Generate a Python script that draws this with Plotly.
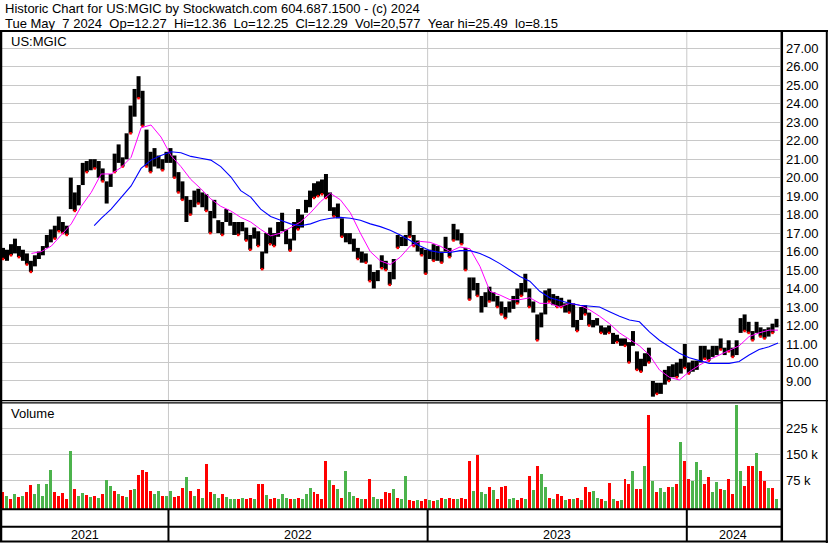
import pandas as pd
import plotly.graph_objects as go

# ---------------- data ----------------
# weekday calendar of the chart (one column per weekday)
dates = pd.bdate_range(end="2024-05-07", periods=780)
STEP = 4  # each price / volume sample covers 4 weekdays

price_lo = [15.6, 15.5, 15.8, 15.9, 15.7, 15.5, 15.3, 14.9, 15.2, 15.6,
            15.8, 16.2, 16.5, 16.7, 17.1, 17.0, 16.9, 18.3, 18.2, 18.5,
            19.6, 20.3, 20.4, 20.5, 20.0, 19.8, 18.6, 19.5, 20.3, 20.8,
            20.6, 21.0, 22.4, 23.3, 24.3, 22.8, 20.6, 20.3, 20.6, 20.5,
            20.4, 20.8, 20.8, 20.0, 19.2, 18.8, 17.6, 18.0, 18.4, 18.6,
            18.4, 18.2, 17.0, 17.8, 17.0, 16.9, 17.6, 17.4, 16.9, 16.9,
            17.1, 16.6, 16.1, 16.7, 16.3, 15.05, 15.9, 16.4, 16.3, 16.8,
            17.1, 16.4, 16.05, 16.6, 17.2, 17.3, 18.1, 18.4, 18.9, 19.0,
            19.1, 18.9, 18.2, 17.9, 17.8, 16.8, 16.5, 16.4, 16.0, 15.6,
            15.4, 15.4, 14.4, 14.0, 14.4, 15.1, 15.0, 14.2, 14.5, 16.2,
            16.3, 16.3, 16.8, 16.3, 16.0, 15.8, 14.8, 15.6, 15.5, 15.5,
            15.4, 16.0, 15.7, 16.6, 16.6, 16.4, 15.0, 13.4, 13.9, 13.6,
            12.7, 13.0, 13.3, 13.3, 13.0, 12.6, 12.4, 12.7, 12.9, 13.2,
            13.6, 13.8, 13.0, 12.7, 11.2, 11.9, 12.6, 13.3, 13.1, 13.0,
            13.0, 12.7, 12.7, 11.9, 11.7, 12.3, 12.6, 12.0, 11.9, 12.0,
            11.6, 11.5, 11.6, 11.0, 11.1, 10.9, 10.9, 10.0, 10.9, 9.6,
            9.5, 9.8, 10.0, 8.15, 8.3, 8.3, 8.8, 9.0, 9.2, 9.2,
            9.4, 9.7, 9.4, 9.5, 9.6, 10.0, 10.2, 10.1, 10.3, 10.4,
            10.7, 10.4, 10.6, 10.3, 10.4, 11.6, 11.7, 11.6, 11.2, 11.6,
            11.4, 11.3, 11.4, 11.6, 11.9]

price_hi = [16.2, 16.1, 16.4, 16.7, 16.3, 16.1, 15.9, 15.5, 15.8, 16.0,
            16.3, 16.9, 17.2, 17.4, 17.9, 17.6, 17.4, 20.0, 19.2, 19.6,
            20.8, 20.9, 21.0, 21.0, 20.9, 20.5, 19.8, 20.2, 21.3, 21.8,
            21.1, 22.4, 23.9, 24.8, 25.49, 24.7, 22.6, 21.4, 21.6, 21.2,
            21.0, 21.4, 21.6, 21.2, 20.3, 19.8, 19.0, 18.8, 19.3, 19.4,
            19.2, 19.1, 18.2, 18.8, 17.7, 17.6, 18.3, 18.1, 17.6, 17.6,
            17.6, 17.3, 16.9, 17.3, 17.1, 16.0, 17.0, 17.3, 17.0, 17.6,
            18.1, 17.2, 16.7, 17.6, 18.3, 18.0, 18.8, 19.3, 19.7, 19.8,
            19.9, 20.2, 19.2, 18.4, 18.6, 17.8, 17.0, 17.0, 16.7, 16.2,
            16.0, 15.9, 15.3, 14.9, 15.0, 15.8, 15.5, 14.9, 15.6, 16.9,
            16.8, 16.9, 17.65, 16.9, 16.6, 16.2, 16.1, 16.1, 16.4, 16.3,
            16.0, 16.8, 16.2, 17.5, 17.2, 17.0, 16.2, 14.6, 14.6, 14.3,
            13.6, 13.8, 14.1, 13.8, 13.6, 13.3, 13.0, 13.3, 13.6, 14.0,
            14.3, 14.8, 14.0, 13.3, 12.6, 12.7, 13.9, 14.0, 13.7, 13.6,
            13.5, 13.2, 13.4, 13.2, 12.3, 13.0, 13.1, 12.7, 12.3, 12.4,
            12.0, 11.9, 12.0, 11.6, 11.5, 11.3, 11.3, 11.1, 11.7, 10.6,
            10.2, 10.5, 10.8, 9.0, 8.9, 8.9, 9.6, 9.8, 9.9, 10.0,
            10.2, 11.0, 10.0, 10.1, 10.1, 10.9, 10.9, 10.7, 10.9, 10.9,
            11.3, 10.8, 11.2, 10.8, 11.2, 12.4, 12.6, 12.2, 11.7, 12.2,
            11.9, 11.8, 11.9, 12.1, 12.36]

# volume in thousands of shares
vol_k = [42, 30, 22, 35, 28, 30, 40, 61, 35, 64,
         30, 64, 105, 42, 30, 38, 22, 160, 50, 30,
         38, 32, 28, 30, 25, 35, 76, 60, 45, 35,
         30, 28, 47, 49, 90, 105, 100, 45, 35, 45,
         30, 30, 45, 28, 30, 52, 84, 45, 30, 49,
         25, 122, 40, 35, 25, 35, 28, 20, 22, 20,
         25, 20, 25, 20, 64, 64, 33, 20, 25, 20,
         35, 25, 20, 22, 25, 20, 35, 53, 41, 35,
         20, 131, 76, 62, 50, 25, 102, 40, 30, 25,
         20, 20, 79, 28, 20, 22, 42, 38, 50, 25,
         20, 88, 18, 15, 18, 15, 20, 18, 15, 18,
         25, 20, 25, 20, 22, 25, 20, 131, 44, 148,
         40, 35, 55, 47, 20, 55, 59, 20, 25, 18,
         25, 20, 88, 47, 116, 93, 55, 25, 20, 35,
         30, 18, 20, 20, 25, 18, 55, 40, 45, 25,
         20, 15, 66, 20, 15, 18, 78, 64, 102, 50,
         50, 116, 263, 74, 40, 52, 40, 55, 55, 64,
         185, 131, 78, 73, 129, 105, 65, 84, 40, 71,
         50, 48, 78, 35, 292, 102, 58, 116, 116, 155,
         103, 74, 52, 52, 20]

# r = down day, g = up day
vol_dir = list("rgrgrgrrgg" "gggrrrrgrg" "grgrgrggrg" "rgrgrrrrgg"
               "rggrrrgrgr" "grrggrgggr" "grrgrrgrrg" "ggrgrgggrr"
               "rrgrgrgggr" "grrggrrrgr" "ggrrgrrgrg" "rgrrgrrrgr"
               "ggrgrrrggr" "rgrgrggrgr" "rgrgrgrrgg" "rgrgrgrrgr"
               "rgrgrggrgr" "grrggg" "rrgg" "rgrrggrrrg" "rrgrg")

# moving averages
ma_fast_days = list(range(30, 780, 10)) + [779]
ma_fast = [15.9, 16.0, 16.3, 16.9, 17.5, 18.45, 19.2, 20.2, 20.2, 20.55,
           21.1, 22.7, 22.85, 22.2, 21.2, 20.6, 19.9, 19.4, 18.85, 18.45,
           18.2, 17.85, 17.6, 17.2, 16.85, 17.0, 17.3, 17.6, 18.1, 18.7,
           19.15, 18.8, 18.1, 17.0, 16.0, 15.5, 15.3, 15.7, 16.3, 16.55,
           16.5, 16.3, 16.0, 16.25, 16.15, 15.2, 13.85, 13.65, 13.4, 13.4,
           13.5, 13.2, 13.2, 13.0, 13.2, 13.1, 12.85, 12.5, 12.1, 11.6,
           11.25, 10.9, 10.4, 9.6, 9.2, 9.05, 9.5, 9.85, 10.15, 10.4,
           10.65, 10.9, 11.4, 11.6, 11.75, 11.75]

ma_slow_days = [93] + list(range(100, 780, 10)) + [779]
ma_slow = [17.4, 17.8, 18.3, 18.9, 19.55, 20.5, 20.95, 21.2, 21.4, 21.35,
           21.15, 21.05, 20.95, 20.6, 20.05, 19.3, 18.95, 18.3, 17.9, 17.7,
           17.5, 17.4, 17.5, 17.7, 17.8, 17.85, 17.8, 17.7, 17.5, 17.35,
           17.15, 16.9, 16.6, 16.3, 16.05, 15.95, 15.95, 16.05, 16.05, 15.9,
           15.65, 15.35, 15.0, 14.65, 14.4, 13.85, 13.5, 13.35, 13.2, 13.1,
           13.05, 13.0, 12.75, 12.5, 12.3, 12.2, 11.65, 11.2, 10.85, 10.5,
           10.25, 10.1, 9.95, 9.95, 9.95, 10.05, 10.4, 10.7, 10.85, 11.05]

price_ticks = list(range(9, 28))
vol_ticks = [75, 150, 225]
vol_tick_text = ["75 k", "150 k", "225 k"]

header1 = "Historic Chart for US:MGIC by Stockwatch.com 604.687.1500 - (c) 2024"
header2 = ("Tue May\u00a0\u00a07 2024\u00a0\u00a0Op=12.27\u00a0\u00a0Hi=12.36\u00a0\u00a0"
           "Lo=12.25\u00a0\u00a0Cl=12.29\u00a0\u00a0Vol=20,577\u00a0\u00a0Year hi=25.49\u00a0\u00a0lo=8.15")

# ---------------- geometry ----------------
W, H = 830, 543
ML, MR, MT, MB = 1, 50, 31, 1
PW, PH = W - ML - MR, H - MT - MB


def py(p):  # pixel row -> paper y
    return (H - MB - p) / PH


def pxx(p):  # pixel column -> paper x
    return (p - ML) / PW


FONT = "Arial, Liberation Sans, sans-serif"
GRID = "#c8c8c8"
VBASE = -7.8

n = len(price_lo)
bar_x = [i * STEP + (STEP - 1) / 2 for i in range(n)]

seg_x, seg_y = [], []
for x, lo, hi in zip(bar_x, price_lo, price_hi):
    seg_x += [x, x, None]
    seg_y += [lo, hi, None]

# red close ticks on down samples (close near the low)
tick_x = [x for x, d in zip(bar_x, vol_dir) if d == "r"]
tick_y = [lo for lo, d in zip(price_lo, vol_dir) if d == "r"]

fig = go.Figure()
fig.add_trace(go.Scatter(x=seg_x, y=seg_y, mode="lines",
                         line=dict(color="black", width=4),
                         xaxis="x", yaxis="y", hoverinfo="skip"))
fig.add_trace(go.Scatter(x=tick_x, y=tick_y, mode="markers",
                         marker=dict(color="#ff0000", size=2.5, symbol="square",
                                     line=dict(width=0)),
                         xaxis="x", yaxis="y", hoverinfo="skip"))
fig.add_trace(go.Scatter(x=ma_fast_days, y=ma_fast, mode="lines",
                         line=dict(color="#ff00ff", width=1),
                         xaxis="x", yaxis="y", hoverinfo="skip"))
fig.add_trace(go.Scatter(x=ma_slow_days, y=ma_slow, mode="lines",
                         line=dict(color="#0000ff", width=1.1),
                         xaxis="x", yaxis="y", hoverinfo="skip"))
fig.add_trace(go.Bar(x=bar_x[:len(vol_k)], y=[v - VBASE for v in vol_k], base=VBASE,
                     width=3,
                     marker=dict(color=["#ff0000" if d == "r" else "#4cb34c" for d in vol_dir],
                                 line=dict(width=0)),
                     xaxis="x", yaxis="y2", hoverinfo="skip"))

# year boundaries
years = sorted(set(d.year for d in dates))
bounds = []
for yv in years[1:]:
    idx = next(i for i, d in enumerate(dates) if d.year == yv)
    bounds.append(idx - 0.5)
edges = [-0.5] + bounds + [len(dates) - 0.5]

shapes = []
for b in bounds:
    shapes.append(dict(type="line", xref="x", yref="paper", x0=b, x1=b,
                       y0=py(400), y1=1, line=dict(color=GRID, width=1), layer="below"))
    shapes.append(dict(type="line", xref="x", yref="paper", x0=b, x1=b,
                       y0=py(509), y1=py(403), line=dict(color=GRID, width=1), layer="below"))
    shapes.append(dict(type="line", xref="x", yref="paper", x0=b, x1=b,
                       y0=py(541.5), y1=py(509), line=dict(color="black", width=2)))

def hline(yp, x0p, x1p, w):
    shapes.append(dict(type="line", xref="paper", yref="paper",
                       x0=pxx(x0p), x1=pxx(x1p), y0=py(yp), y1=py(yp),
                       line=dict(color="black", width=w)))

def vline(xp, y0p, y1p, w):
    shapes.append(dict(type="line", xref="paper", yref="paper",
                       x0=pxx(xp), x1=pxx(xp), y0=py(y0p), y1=py(y1p),
                       line=dict(color="black", width=w)))

hline(31, 0, 828, 2)
hline(400.6, 0, 828, 1.2)
hline(402.8, 0, 781, 1.2)
hline(509.3, 0, 781, 2)
hline(526.8, 0, 781, 2)
hline(541.6, 0, 828, 2)
vline(1, 31, 542, 2.5)
vline(781.8, 31, 542, 2.5)
vline(826.8, 31, 543, 2)

annotations = [
    dict(text=header1, xref="paper", yref="paper", x=pxx(3), y=py(9),
         xanchor="left", yanchor="middle", showarrow=False,
         font=dict(family=FONT, size=13, color="black")),
    dict(text=header2, xref="paper", yref="paper", x=pxx(3), y=py(23),
         xanchor="left", yanchor="middle", showarrow=False,
         font=dict(family=FONT, size=13, color="black")),
    dict(text="US:MGIC", xref="paper", yref="paper", x=pxx(9), y=py(41.5),
         xanchor="left", yanchor="middle", showarrow=False,
         font=dict(family=FONT, size=13, color="black")),
    dict(text="Volume", xref="paper", yref="paper", x=pxx(9), y=py(413),
         xanchor="left", yanchor="middle", showarrow=False,
         font=dict(family=FONT, size=13, color="black")),
]
for yv, a, b in zip(years, edges[:-1], edges[1:]):
    annotations.append(dict(text=str(yv), xref="x", yref="paper", x=(a + b) / 2, y=py(534.5),
                            xanchor="center", yanchor="middle", showarrow=False,
                            font=dict(family=FONT, size=12.5, color="black")))

fig.update_layout(
    width=W, height=H,
    margin=dict(l=ML, r=MR, t=MT, b=MB, pad=0, autoexpand=False),
    paper_bgcolor="white", plot_bgcolor="white",
    showlegend=False, hovermode=False, bargap=0,
    xaxis=dict(domain=[0, 1], range=[-0.5, 781], showgrid=False, zeroline=False,
               showticklabels=False, ticks="", showline=False, fixedrange=True,
               automargin=False),
    yaxis=dict(domain=[py(400), 1], range=[7.969, 27.936], side="right", anchor="x",
               tickvals=price_ticks, ticktext=[f"{v:.2f}" for v in price_ticks],
               showgrid=True, gridcolor=GRID, gridwidth=1, zeroline=False, showline=False,
               ticks="", ticklabelstandoff=5, automargin=False,
               tickfont=dict(family=FONT, size=13, color="black"), fixedrange=True),
    yaxis2=dict(domain=[py(509), py(403)], range=[VBASE, 298], side="right", anchor="x",
                tickvals=vol_ticks, ticktext=vol_tick_text,
                showgrid=True, gridcolor=GRID, gridwidth=1, zeroline=False, showline=False,
                ticks="", ticklabelstandoff=5, automargin=False,
                tickfont=dict(family=FONT, size=13, color="black"), fixedrange=True),
    shapes=shapes,
    annotations=annotations,
)

fig.write_html("out.html", config={"displayModeBar": False},
               post_script="document.body.style.margin='0px';document.body.style.overflow='hidden';")
